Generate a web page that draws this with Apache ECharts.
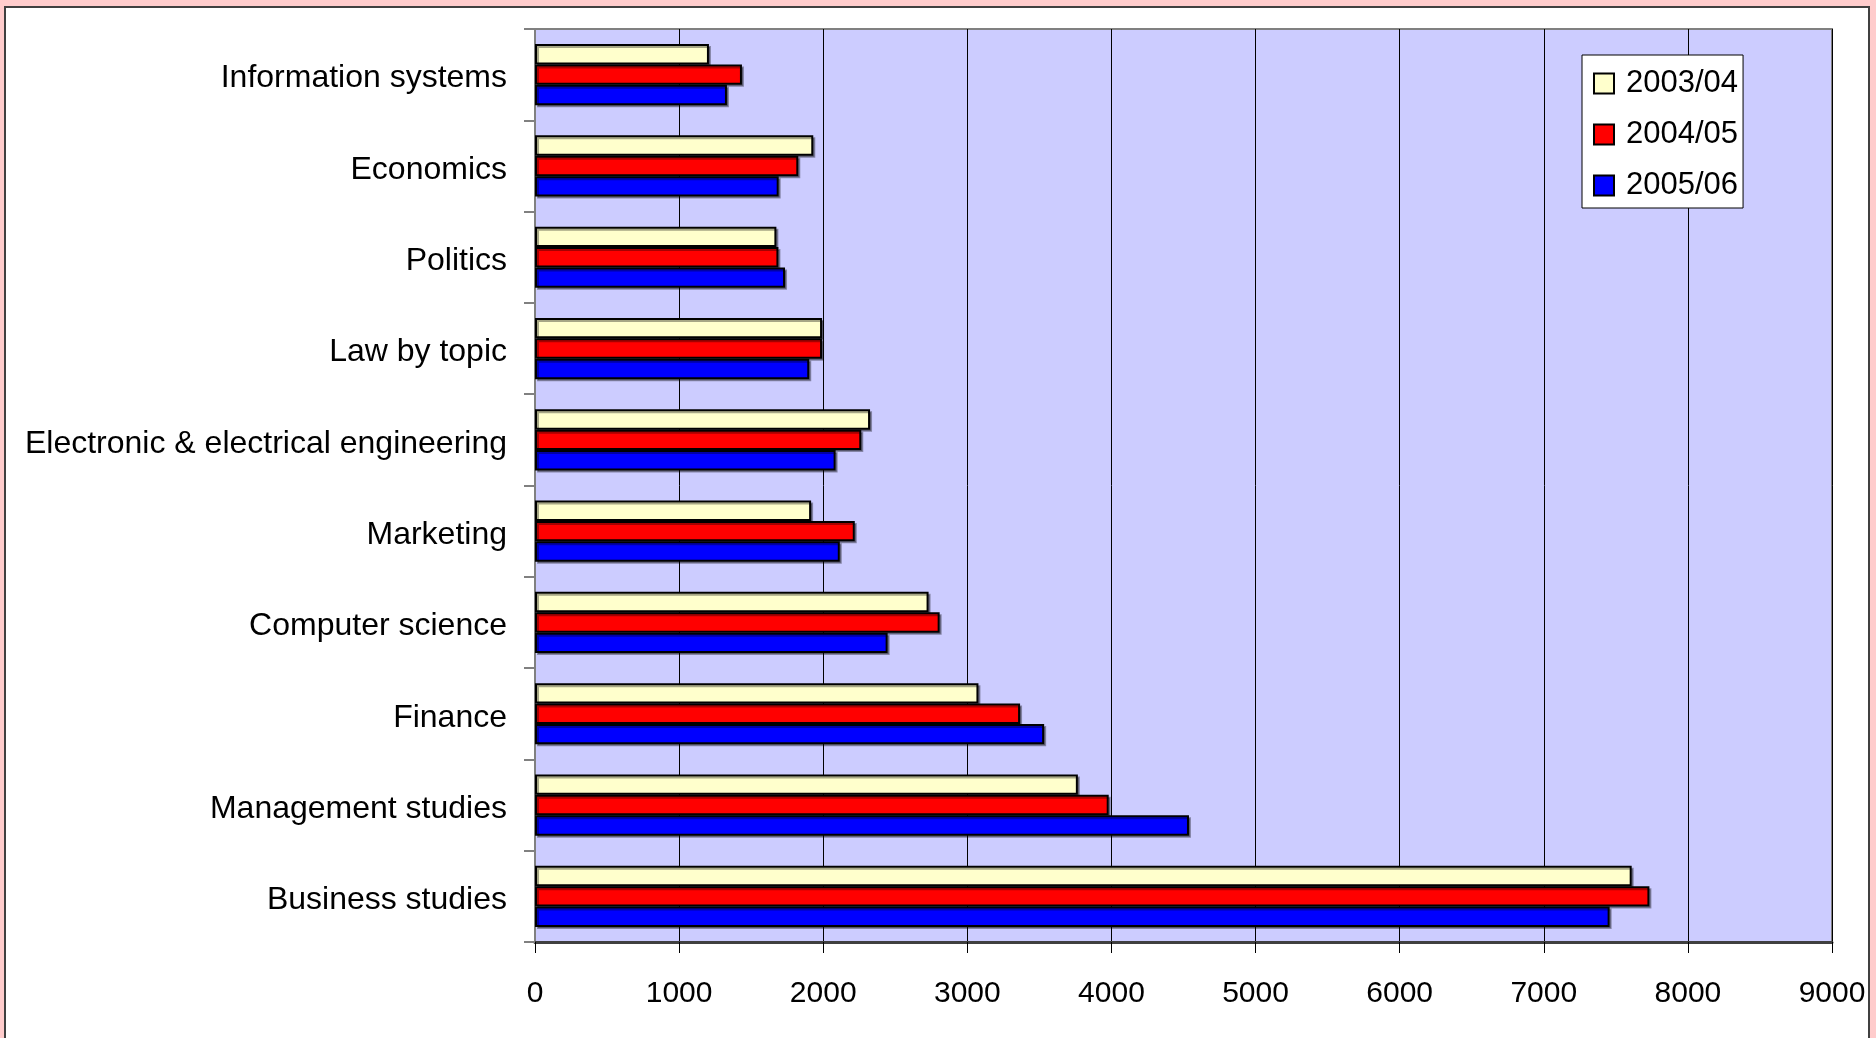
<!DOCTYPE html>
<html>
<head>
<meta charset="utf-8">
<script src="https://cdn.jsdelivr.net/npm/echarts@6/dist/echarts.min.js"></script>
<style>
html,body{margin:0;padding:0;background:#FFCCCC;}
#chart{width:1876px;height:1038px;}
</style>
</head>
<body>
<div id="chart"></div>
<script>
const categories = ["Information systems","Economics","Politics","Law by topic","Electronic & electrical engineering","Marketing","Computer science","Finance","Management studies","Business studies"];
const seriesNames = ["2003/04","2004/05","2005/06"];
const values0304 = [1207,1931,1675,1992,2325,1916,2731,3077,3767,7610];
const values0405 = [1436,1827,1689,1992,2264,2219,2808,3366,3981,7733];
const values0506 = [1332,1691,1735,1903,2086,2115,2447,3533,4538,7457];
const xTicks = {min:0, max:9000, interval:1000};
const colors = ["#FFFFCC","#FF0000","#0000FF"];

const font = "'Liberation Sans', Arial, sans-serif";
const dataSets = [values0304, values0405, values0506];
const chart = echarts.init(document.getElementById('chart'));
chart.setOption({
  backgroundColor: '#FFCCCC',
  animation: false,
  textStyle: {fontFamily: font},
  graphic: [{
    type: 'rect', z: -10, silent: true,
    shape: {x: 5, y: 7, width: 1864, height: 1060},
    style: {fill: '#FFFFFF', stroke: '#404040', lineWidth: 2}
  }],
  grid: {
    left: 535, right: 44, top: 29, bottom: 96,
    show: true, backgroundColor: '#CCCCFF', borderColor: '#808080', borderWidth: 2
  },
  legend: {
    orient: 'vertical', left: 1582, top: 55,
    backgroundColor: '#FFFFFF', borderColor: '#000000', borderWidth: 1,
    padding: [13, 5, 7, 11],
    itemWidth: 20, itemHeight: 20, itemGap: 20,
    icon: 'rect',
    textStyle: {fontSize: 31, color: '#000', fontFamily: font, padding: [0,0,0,7]},
    data: seriesNames
  },
  xAxis: {
    type: 'value', min: xTicks.min, max: xTicks.max, interval: xTicks.interval,
    axisLine: {show: true, lineStyle: {color: '#404040', width: 3}},
    axisTick: {show: true, length: 11, lineStyle: {color: '#000', width: 1}},
    axisLabel: {fontSize: 30, color: '#000', margin: 37, fontFamily: font, formatter: v => String(v)},
    splitLine: {show: true, lineStyle: {color: '#000000', width: 1}}
  },
  yAxis: {
    type: 'category', inverse: true, data: categories,
    axisLine: {show: true, lineStyle: {color: '#808080', width: 2}},
    axisTick: {show: true, length: 11, lineStyle: {color: '#808080', width: 2}},
    axisLabel: {color: '#000', margin: 28, fontFamily: font,
      formatter: v => '{a|' + v + '}',
      rich: {a: {fontSize: 32, color: '#000', fontFamily: font, padding: [8, 0, 0, 0]}}},
    splitLine: {show: false}
  },
  series: seriesNames.map((n, i) => ({
    name: n, type: 'bar', data: dataSets[i],
    barGap: '0%', barCategoryGap: '33%',
    itemStyle: {color: colors[i], borderColor: '#000', borderWidth: 2,
      shadowColor: 'rgba(0,0,0,0.35)', shadowOffsetX: 2, shadowOffsetY: 2, shadowBlur: 0}
  }))
});
</script>
</body>
</html>
